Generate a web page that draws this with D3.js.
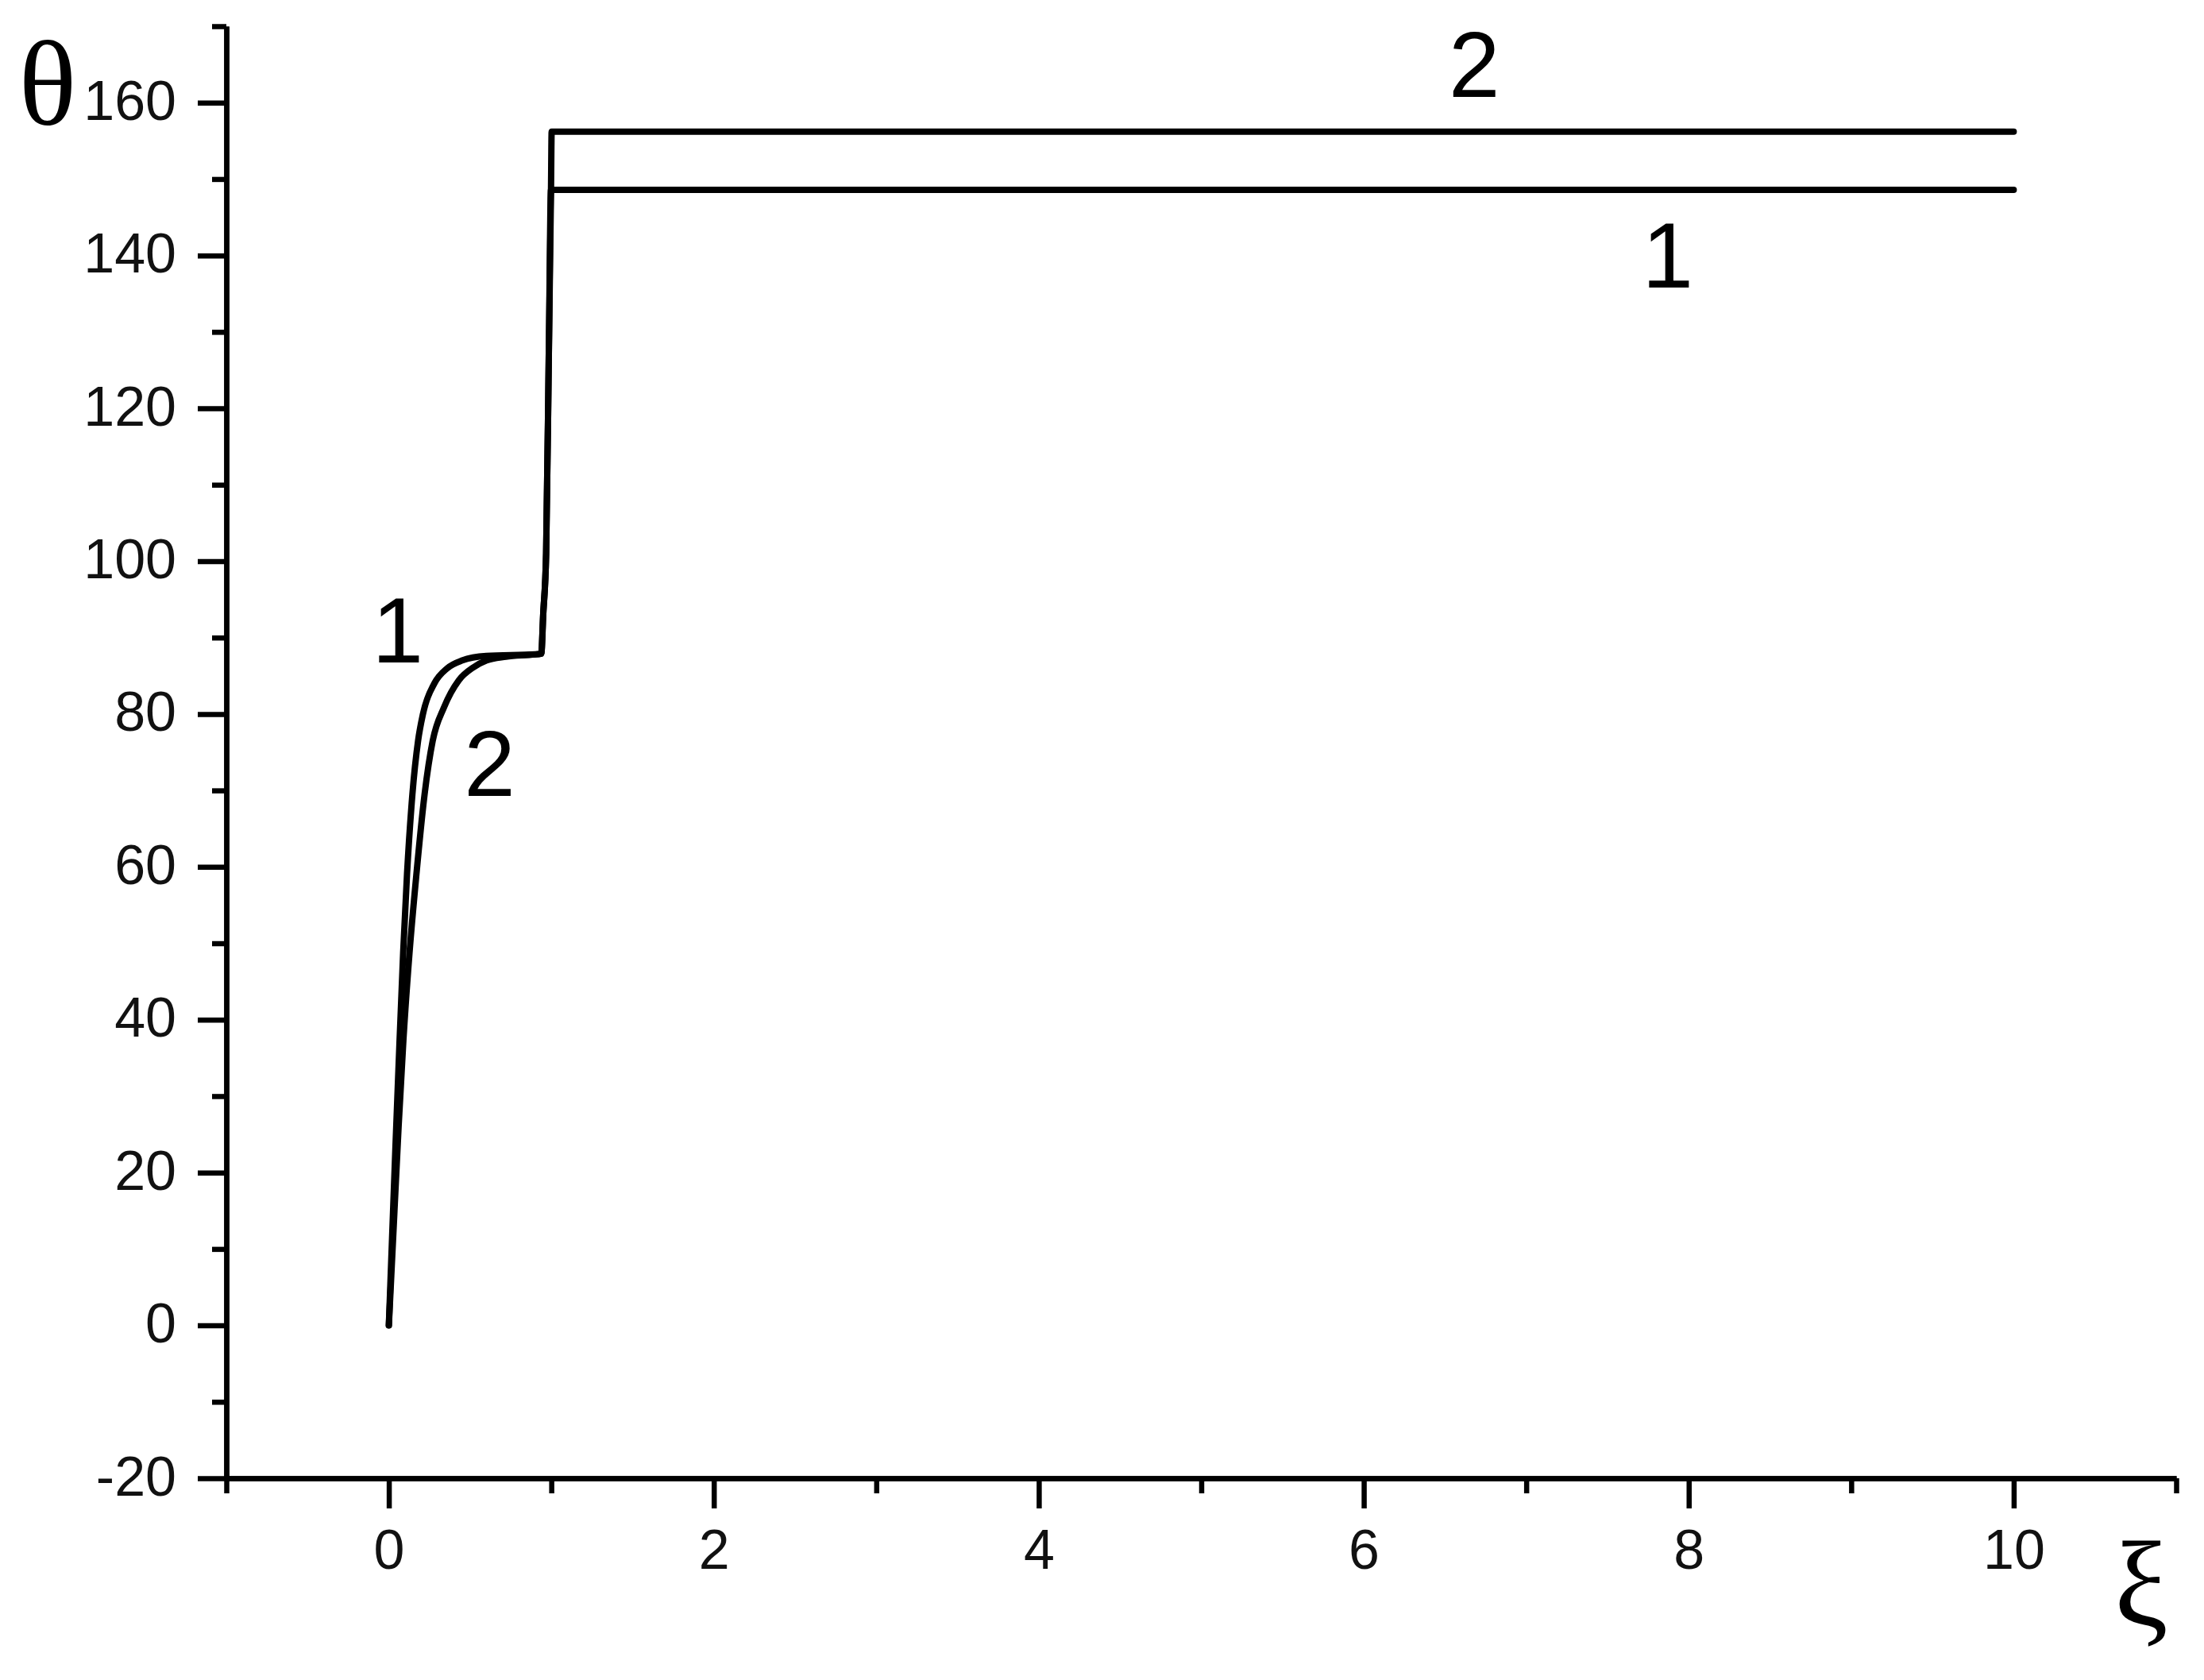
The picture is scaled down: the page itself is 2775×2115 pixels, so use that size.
<!DOCTYPE html>
<html>
<head>
<meta charset="utf-8">
<script src="https://cdn.jsdelivr.net/npm/d3@7"></script>
<style>
  html, body { margin: 0; padding: 0; background: #fff; }
  svg { display: block; }
</style>
</head>
<body>
<div id="chart"></div>
<script>
// curve 1 and curve 2 (xi, theta)
const xi1 =    [0, 0.02, 0.04, 0.06, 0.088, 0.112, 0.145, 0.18, 0.21, 0.28, 0.36, 0.45, 0.6, 0.9, 0.938, 0.95, 0.968, 0.985, 0.998, 10];
const theta1 = [0, 11.5, 23, 34, 48.7, 59.1, 69.5, 76.5, 80, 84, 86, 87, 87.6, 87.8, 87.9, 93, 101, 128, 148.6, 148.6];

const xi2 =    [0, 0.03, 0.06, 0.09, 0.127, 0.17, 0.22, 0.27, 0.34, 0.43, 0.52, 0.6, 0.72, 0.9, 0.938, 0.95, 0.968, 0.985, 0.998, 1.002, 10];
const theta2 = [0, 13, 26, 37.5, 48.7, 59.1, 69.5, 76.5, 80.9, 84.4, 86.1, 87, 87.5, 87.8, 87.9, 93, 101, 128, 148.6, 156.2, 156.2];

// axis ticks
const xMajorTicks = [0, 2, 4, 6, 8, 10];
const xMinorTicks = [-1, 1, 3, 5, 7, 9, 11];
const yMajorTicks = [-20, 0, 20, 40, 60, 80, 100, 120, 140, 160];
const yMinorTicks = [-10, 10, 30, 50, 70, 90, 110, 130, 150, 170];

// curve number labels: [xi, theta, text]
const curveLabels = [
  [0.055, 86.7, "1"],
  [0.62, 69.3, "2"],
  [6.68, 160.7, "2"],
  [7.87, 135.8, "1"]
];

const width = 2775, height = 2115;
const sansFont = "'Liberation Sans', Arial, sans-serif";
const serifFont = "'Liberation Serif', 'Times New Roman', serif";

const svg = d3.select("#chart").append("svg")
  .attr("width", width)
  .attr("height", height)
  .attr("viewBox", `0 0 ${width} ${height}`);

const x = d3.scaleLinear().domain([-1, 11]).range([285, 2740]);
const y = d3.scaleLinear().domain([-20, 170]).range([1861, 33]);

const axisStroke = 6.5;

// y axis: minor ticks, then major ticks with labels
svg.append("g")
  .attr("transform", `translate(${x(-1)},0)`)
  .call(d3.axisLeft(y).tickValues(yMinorTicks).tickSize(18).tickSizeOuter(0).tickFormat(""));

const yMajor = svg.append("g")
  .attr("transform", `translate(${x(-1)},0)`)
  .call(d3.axisLeft(y).tickValues(yMajorTicks).tickSize(36).tickSizeOuter(0).tickFormat(d => String(d)));

yMajor.selectAll("text")
  .attr("x", -63)
  .attr("dy", 21)
  .attr("font-size", 70)
  .attr("font-family", sansFont)
  .attr("fill", "#111");

// x axis
svg.append("g")
  .attr("transform", `translate(0,${y(-20)})`)
  .call(d3.axisBottom(x).tickValues(xMinorTicks).tickSize(19).tickSizeOuter(0).tickFormat(""));

const xMajor = svg.append("g")
  .attr("transform", `translate(0,${y(-20)})`)
  .call(d3.axisBottom(x).tickValues(xMajorTicks).tickSize(38).tickSizeOuter(0).tickFormat(d => String(d)));

xMajor.selectAll("text")
  .attr("y", 114)
  .attr("dy", 0)
  .attr("font-size", 70)
  .attr("font-family", sansFont)
  .attr("fill", "#111");

svg.selectAll(".domain, .tick line")
  .attr("stroke", "#000")
  .attr("stroke-width", axisStroke);

// the curves
const line = d3.line()
  .x(d => x(d[0]))
  .y(d => y(d[1]))
  .curve(d3.curveMonotoneX);

const series = [
  d3.zip(xi1, theta1),
  d3.zip(xi2, theta2)
];

svg.selectAll("path.curve")
  .data(series)
  .join("path")
  .attr("class", "curve")
  .attr("d", line)
  .attr("fill", "none")
  .attr("stroke", "#000")
  .attr("stroke-width", 8)
  .attr("stroke-linejoin", "round")
  .attr("stroke-linecap", "round");

// curve numbers
svg.selectAll("text.curve-label")
  .data(curveLabels)
  .join("text")
  .attr("class", "curve-label")
  .attr("x", d => x(d[0]))
  .attr("y", d => y(d[1]))
  .attr("text-anchor", "middle")
  .attr("font-size", 116)
  .attr("font-family", sansFont)
  .attr("fill", "#000")
  .text(d => d[2]);

// axis titles (greek letters, serif)
svg.append("text")
  .attr("x", 60)
  .attr("y", 157)
  .attr("text-anchor", "middle")
  .attr("font-size", 152)
  .attr("font-family", serifFont)
  .attr("fill", "#000")
  .text("θ");

svg.append("text")
  .attr("x", 2696)
  .attr("y", 2046)
  .attr("text-anchor", "middle")
  .attr("font-size", 152)
  .attr("font-family", serifFont)
  .attr("fill", "#000")
  .text("ξ");
</script>
</body>
</html>
